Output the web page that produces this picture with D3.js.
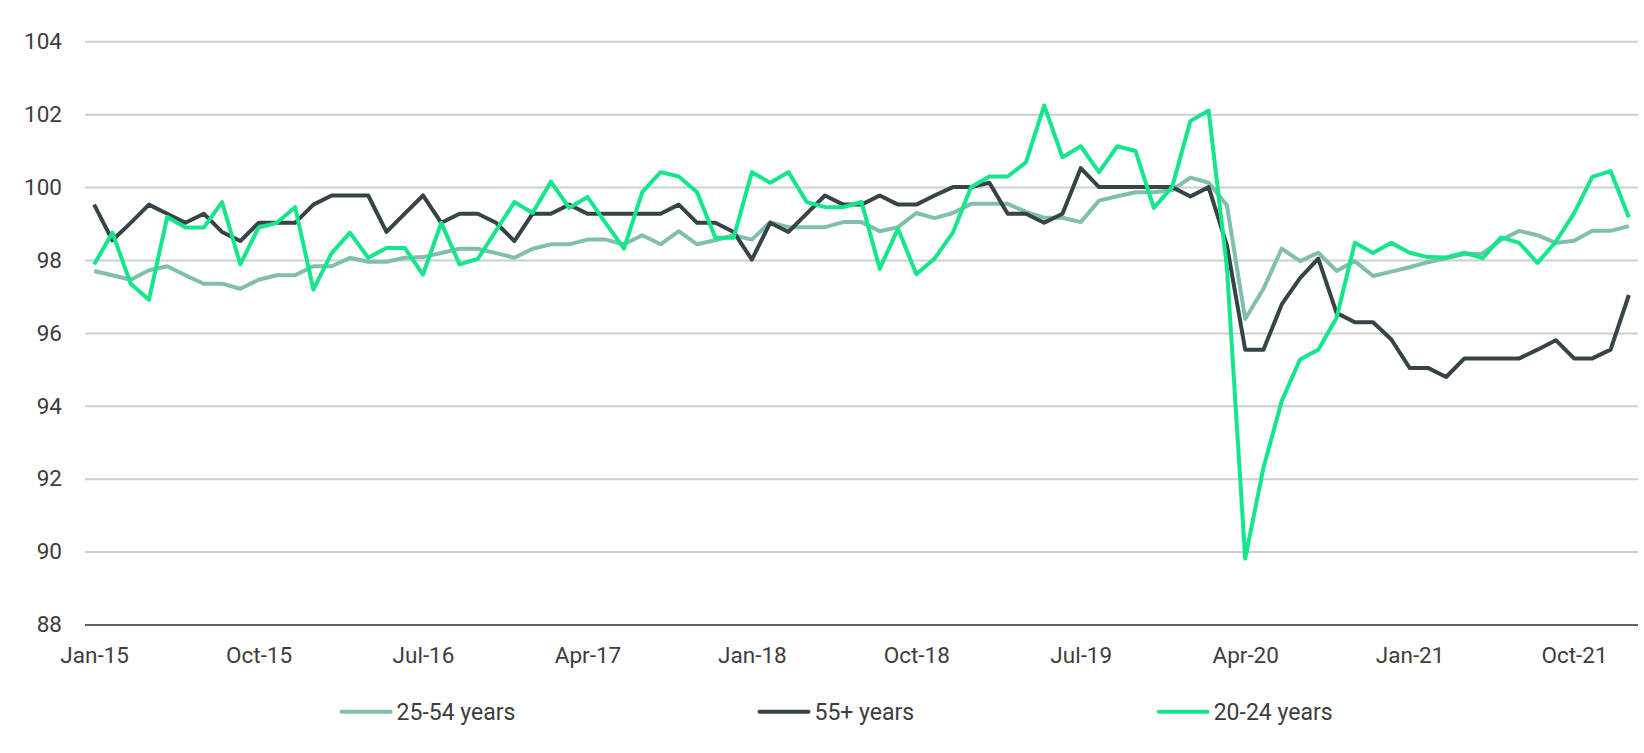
<!DOCTYPE html>
<html>
<head>
<meta charset="utf-8">
<script src="https://cdn.jsdelivr.net/npm/d3@7"></script>
<style>
  html, body { margin: 0; padding: 0; background: #ffffff; }
  svg { display: block; }
  text { font-family: Roboto, "Noto Sans", sans-serif; }
</style>
</head>
<body>
<svg id="chart" width="1644" height="753"></svg>
<script>
// ---------- DATA ----------
const monthNames = ["Jan","Feb","Mar","Apr","May","Jun","Jul","Aug","Sep","Oct","Nov","Dec"];
const startYear = 15, monthCount = 85; // Jan-15 .. Jan-22
const categories = [];
for (let i = 0; i < monthCount; i++) {
  categories.push(monthNames[i % 12] + "-" + (startYear + Math.floor(i / 12)));
}
const xTickLabels = ["Jan-15","Oct-15","Jul-16","Apr-17","Jan-18","Oct-18","Jul-19","Apr-20","Jan-21","Oct-21"];
const yTickValues = [88, 90, 92, 94, 96, 98, 100, 102, 104];

const seriesNames = ["25-54 years", "55+ years", "20-24 years"];

const values2554 = [
  97.7, 97.58, 97.46, 97.72, 97.83, 97.58, 97.35, 97.35, 97.21, 97.46,
  97.58, 97.58, 97.83, 97.83, 98.06, 97.95, 97.95, 98.06, 98.08, 98.19,
  98.31, 98.31, 98.19, 98.06, 98.31, 98.43, 98.43, 98.56, 98.56, 98.43,
  98.68, 98.43, 98.79, 98.43, 98.54, 98.68, 98.56, 99.04, 98.9, 98.9,
  98.9, 99.04, 99.04, 98.79, 98.9, 99.29, 99.15, 99.29, 99.54, 99.54,
  99.54, 99.32, 99.16, 99.16, 99.04, 99.63, 99.75, 99.86, 99.86, 99.92,
  100.26, 100.12, 99.5, 96.38, 97.21, 98.31, 97.97, 98.2, 97.7, 97.97,
  97.56, 97.68, 97.8, 97.94, 98.05, 98.16, 98.18, 98.55, 98.8, 98.68,
  98.47, 98.53, 98.8, 98.8, 98.93
];

const values55plus = [
  99.52, 98.54, 99.02, 99.52, 99.27, 99.02, 99.27, 98.77, 98.52, 99.02,
  99.02, 99.02, 99.52, 99.77, 99.77, 99.77, 98.77, 99.27, 99.77, 99.02,
  99.27, 99.27, 99.02, 98.52, 99.27, 99.27, 99.52, 99.27, 99.27, 99.27,
  99.27, 99.27, 99.52, 99.02, 99.02, 98.77, 98.01, 99.02, 98.77, 99.27,
  99.77, 99.52, 99.52, 99.77, 99.52, 99.52, 99.77, 100.0, 100.0, 100.12,
  99.27, 99.27, 99.02, 99.27, 100.52, 100.0, 100.0, 100.0, 100.0, 100.0,
  99.74, 100.0, 98.4, 95.54, 95.54, 96.78, 97.5, 98.04, 96.55, 96.29,
  96.29, 95.82, 95.04, 95.04, 94.79, 95.3, 95.3, 95.3, 95.3, 95.54,
  95.8, 95.3, 95.3, 95.54, 97.04
];

const values2024 = [
  97.88, 98.75, 97.35, 96.91, 99.18, 98.89, 98.89, 99.59, 97.88, 98.89,
  99.02, 99.45, 97.19, 98.19, 98.75, 98.06, 98.33, 98.33, 97.6, 99.02,
  97.88, 98.03, 98.81, 99.59, 99.29, 100.15, 99.43, 99.73, 99.01, 98.31,
  99.86, 100.41, 100.29, 99.86, 98.61, 98.61, 100.41, 100.12, 100.41, 99.59,
  99.45, 99.45, 99.59, 97.76, 98.86, 97.61, 98.04, 98.75, 100.0, 100.29,
  100.29, 100.68, 102.24, 100.82, 101.12, 100.41, 101.12, 100.99, 99.43, 100.0,
  101.81, 102.1, 97.8, 89.81, 92.3, 94.13, 95.27, 95.54, 96.41, 98.47,
  98.19, 98.47, 98.2, 98.08, 98.07, 98.2, 98.05, 98.62, 98.47, 97.92,
  98.5, 99.28, 100.28, 100.44, 99.17
];

// ---------- LAYOUT ----------
const plotLeft = 85, plotRight = 1638, plotTop = 41.3, plotBottom = 624.5;
const colors = ["#80bead", "#364447", "#14e68c"];
const seriesValues = [values2554, values55plus, values2024];

const svg = d3.select("#chart");
svg.append("rect").attr("width", 1644).attr("height", 753).attr("fill", "#ffffff");

const x = d3.scalePoint().domain(categories).range([plotLeft, plotRight]).padding(0.5);
const y = d3.scaleLinear().domain([88, 104]).range([plotBottom, plotTop]);

// Y axis with gridlines
const yAxis = svg.append("g")
  .attr("transform", `translate(${plotLeft},0)`)
  .call(d3.axisLeft(y).tickValues(yTickValues).tickSize(-(plotRight - plotLeft)).tickPadding(23).tickFormat(d3.format("d")));
yAxis.select(".domain").remove();
yAxis.selectAll(".tick line")
  .attr("stroke", d => d === 88 ? "#5c676a" : "#c9cfd2")
  .attr("stroke-width", 2);
yAxis.selectAll(".tick text")
  .attr("fill", "#3d3d3d")
  .style("font-size", "22.5px");

// X axis
const xAxis = svg.append("g")
  .attr("transform", `translate(0,${plotBottom})`)
  .call(d3.axisBottom(x).tickValues(xTickLabels).tickSize(0));
xAxis.select(".domain").remove();
xAxis.selectAll(".tick text")
  .attr("dy", null)
  .attr("y", 38.5)
  .attr("fill", "#3d3d3d")
  .style("font-size", "22.5px");

// Lines
const line = d3.line()
  .x((d, i) => x(categories[i]))
  .y(d => y(d));

seriesValues.forEach((vals, k) => {
  svg.append("path")
    .datum(vals)
    .attr("fill", "none")
    .attr("stroke", colors[k])
    .attr("stroke-width", 4)
    .attr("stroke-linejoin", "round")
    .attr("d", line);
});

// Legend
const legendY = 711.7;
const legendX = [341.6, 759.5, 1158.7];
const legend = svg.append("g");
seriesNames.forEach((name, k) => {
  legend.append("line")
    .attr("x1", legendX[k]).attr("x2", legendX[k] + 49)
    .attr("y1", legendY).attr("y2", legendY)
    .attr("stroke", colors[k]).attr("stroke-width", 4)
    .attr("stroke-linecap", "round");
  legend.append("text")
    .attr("x", legendX[k] + 55)
    .attr("y", legendY)
    .attr("dy", "0.35em")
    .attr("fill", "#3d3d3d")
    .style("font-size", "23px")
    .text(name);
});
</script>
</body>
</html>
